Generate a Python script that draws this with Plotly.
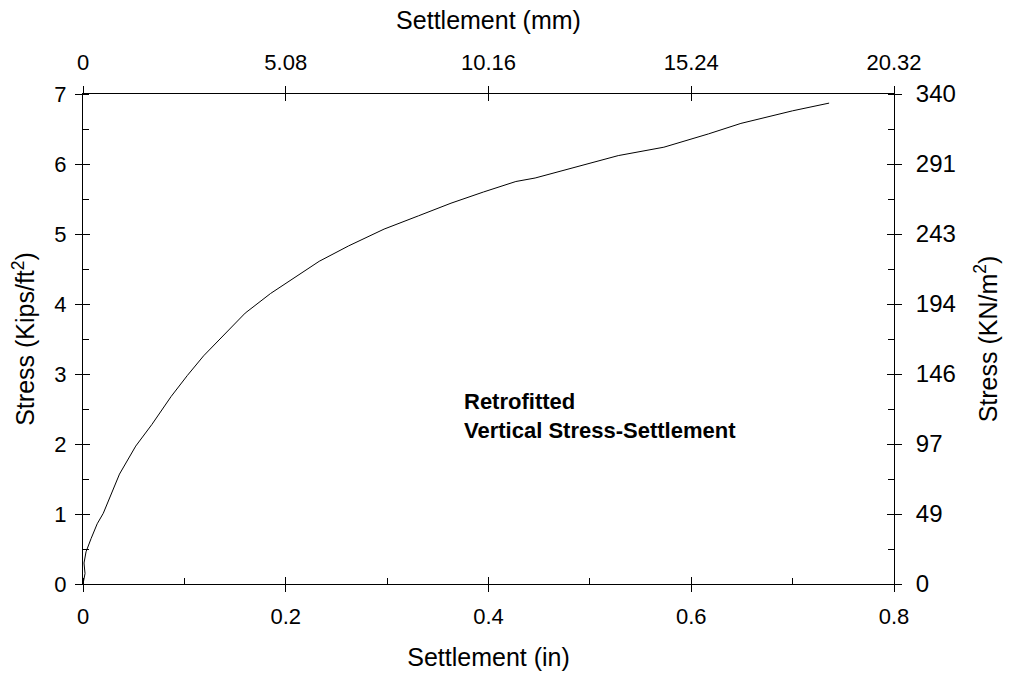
import plotly.graph_objects as go

# Data
settlement_in = [0.0, 0.002, 0.001, 0.003, 0.008, 0.014, 0.020, 0.036, 0.052, 0.068, 0.087,
                 0.103, 0.119, 0.138, 0.160, 0.185, 0.211, 0.233, 0.262, 0.297, 0.331,
                 0.363, 0.395, 0.427, 0.446, 0.490, 0.528, 0.573, 0.617, 0.649, 0.700, 0.736]
stress_ksf = [0.0, 0.15, 0.30, 0.46, 0.65, 0.86, 1.01, 1.57, 1.97, 2.28, 2.68,
              2.98, 3.26, 3.54, 3.87, 4.15, 4.40, 4.61, 4.83, 5.07, 5.26,
              5.44, 5.60, 5.75, 5.80, 5.97, 6.12, 6.24, 6.43, 6.58, 6.76, 6.87]

x_major = [0, 0.2, 0.4, 0.6, 0.8]
x_labels_in = ["0", "0.2", "0.4", "0.6", "0.8"]
x_labels_mm = ["0", "5.08", "10.16", "15.24", "20.32"]
y_major = [0, 1, 2, 3, 4, 5, 6, 7]
y_labels_ksf = ["0", "1", "2", "3", "4", "5", "6", "7"]
y_labels_kn = ["0", "49", "97", "146", "194", "243", "291", "340"]

FONT = "Arial, Liberation Sans, sans-serif"

fig = go.Figure()
fig.add_trace(go.Scatter(x=settlement_in, y=stress_ksf, mode="lines",
                         line=dict(color="black", width=1), showlegend=False,
                         xaxis="x", yaxis="y"))
# invisible helper traces so that the overlay axes are drawn
for xa, ya in [("x2", "y2"), ("x3", "y3"), ("x4", "y4")]:
    fig.add_trace(go.Scatter(x=[settlement_in[0]], y=[stress_ksf[0]], mode="markers",
                             marker=dict(opacity=0), hoverinfo="skip", showlegend=False,
                             xaxis=xa, yaxis=ya))

tickfont = dict(family=FONT, size=22, color="black")
tickfont_r = dict(family=FONT, size=24, color="black")
titlefont = dict(family=FONT, size=25, color="black")

common = dict(showgrid=False, zeroline=False, linecolor="black", linewidth=1,
              tickcolor="black", ticklen=7, tickwidth=1, automargin=False)

fig.update_layout(
    width=1011, height=677,
    margin=dict(l=83, r=117, t=94, b=93),
    paper_bgcolor="white", plot_bgcolor="white",
    font=dict(family=FONT, color="black"),
    xaxis=dict(range=[0, 0.8], side="bottom", anchor="y",
               tickvals=x_major, ticktext=x_labels_in, ticks="outside",
               showline=True, tickfont=tickfont, ticklabelstandoff=6,
               title=dict(text="Settlement (in)", font=titlefont, standoff=20),
               minor=dict(dtick=0.1, ticks="inside", ticklen=6, tickcolor="black"),
               **common),
    xaxis2=dict(range=[0, 0.8], side="top", anchor="y", overlaying="x",
                tickvals=x_major, ticktext=x_labels_mm, ticks="outside",
                showline=True, tickfont=tickfont, ticklabelstandoff=7,
                title=dict(text="Settlement (mm)", font=titlefont, standoff=13),
                **common),
    xaxis3=dict(range=[0, 0.8], side="bottom", anchor="y", overlaying="x",
                tickvals=x_major, ticks="inside", showticklabels=False,
                showline=False, **common),
    xaxis4=dict(range=[0, 0.8], side="top", anchor="y", overlaying="x",
                tickvals=x_major, ticks="inside", showticklabels=False,
                showline=False, **common),
    yaxis=dict(range=[0, 7], side="left", anchor="x",
               tickvals=y_major, ticktext=y_labels_ksf, ticks="outside",
               showline=True, tickfont=tickfont, ticklabelstandoff=4,
               title=dict(text="Stress (Kips/ft<sup>2</sup>)", font=titlefont, standoff=12),
               minor=dict(dtick=0.5, ticks="inside", ticklen=6, tickcolor="black"),
               **common),
    yaxis2=dict(range=[0, 7], side="right", anchor="x", overlaying="y",
                tickvals=y_major, ticktext=y_labels_kn, ticks="outside",
                showline=True, tickfont=tickfont_r, ticklabelstandoff=9,
                title=dict(text="Stress (KN/m<sup>2</sup>)", font=titlefont, standoff=24),
                minor=dict(dtick=0.5, ticks="inside", ticklen=6, tickcolor="black"),
                **common),
    yaxis3=dict(range=[0, 7], side="left", anchor="x", overlaying="y",
                tickvals=y_major, ticks="inside", showticklabels=False,
                showline=False, **common),
    yaxis4=dict(range=[0, 7], side="right", anchor="x", overlaying="y",
                tickvals=y_major, ticks="inside", showticklabels=False,
                showline=False, **common),
    annotations=[dict(x=0.374, y=2.40, xref="x", yref="y", xanchor="left", yanchor="middle",
                      align="left", showarrow=False,
                      text="<b>Retrofitted</b><br><b>Vertical Stress-Settlement</b>",
                      font=dict(family=FONT, size=22, color="black"))],
)

fig.write_html("out.html")
